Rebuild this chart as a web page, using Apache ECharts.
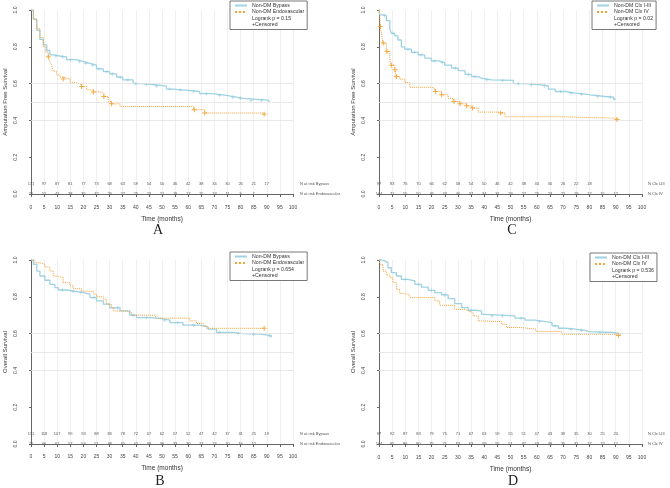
<!DOCTYPE html>
<html>
<head>
<meta charset="utf-8">
<script src="https://cdn.jsdelivr.net/npm/echarts@6/dist/echarts.min.js"></script>
<style>
  html, body { margin: 0; padding: 0; background: #fff; }
  #chart { width: 670px; height: 488px; }
</style>
</head>
<body>
<div id="chart"></div>
<script>
// Kaplan-Meier steps: [months, survival] (value after the drop)
const aBypass = [[0, 1], [0.9, 0.95], [2.2, 0.89], [3.4, 0.84], [4.7, 0.81], [6, 0.78], [7.2, 0.756], [8.5, 0.75], [11, 0.745], [13.6, 0.73], [17.4, 0.72], [20, 0.71], [22.5, 0.7], [25, 0.68], [27.6, 0.665], [30, 0.653], [32.7, 0.635], [35, 0.62], [39, 0.6], [42.8, 0.595], [46.6, 0.586], [51.7, 0.57], [54, 0.565], [59, 0.557], [64.4, 0.545], [69.5, 0.536], [74.6, 0.527], [78.4, 0.52], [81, 0.51], [90.5, 0.5], [91, 0.5]];
const aEndo = [[0, 1], [1, 0.95], [2.2, 0.9], [3.4, 0.85], [4.7, 0.8], [5.6, 0.77], [6.6, 0.746], [7.2, 0.72], [7.9, 0.7], [8.5, 0.667], [9.8, 0.647], [11, 0.635], [12.3, 0.625], [14.9, 0.605], [17, 0.595], [19.3, 0.584], [21.2, 0.566], [23.8, 0.555], [26.3, 0.548], [27.8, 0.53], [29.5, 0.503], [30.7, 0.49], [34, 0.476], [62, 0.458], [66.3, 0.44], [89, 0.434]];
const aBypassCens = [[9.5, 0.75], [12, 0.745], [15, 0.73], [18.5, 0.72], [21, 0.71], [23.5, 0.7], [26, 0.68], [29, 0.665], [31, 0.653], [34, 0.635], [37, 0.62], [40, 0.6], [44, 0.595], [48, 0.586], [53, 0.57], [57, 0.565], [62, 0.557], [67, 0.545], [72, 0.536], [77, 0.527], [80, 0.52], [84, 0.51], [88, 0.51]];
const aEndoCens = [[6.6, 0.746], [12.3, 0.625], [19.3, 0.584], [23.8, 0.555], [27.8, 0.53], [30.7, 0.49], [62.3, 0.458], [66.3, 0.44], [89, 0.434]];

const bBypass = [[0, 1], [0.9, 0.976], [2.2, 0.94], [3.4, 0.913], [5.3, 0.89], [7.2, 0.868], [9.1, 0.85], [10.4, 0.837], [13.6, 0.83], [17.4, 0.823], [20, 0.814], [22.5, 0.796], [25, 0.778], [27.6, 0.76], [30, 0.74], [34, 0.723], [37.7, 0.7], [40.3, 0.687], [45.4, 0.683], [49.2, 0.673], [53, 0.66], [58, 0.646], [64.4, 0.636], [67.6, 0.624], [70.8, 0.606], [77, 0.6], [81, 0.597], [87.3, 0.593], [89.8, 0.588], [91.7, 0.58]];
const bEndo = [[0, 1], [1.5, 0.985], [3.4, 0.976], [5.3, 0.962], [7.2, 0.94], [8.5, 0.913], [9.8, 0.904], [12.3, 0.877], [14.9, 0.86], [16.1, 0.844], [19.3, 0.83], [23.8, 0.814], [25, 0.8], [27.6, 0.787], [28.8, 0.76], [30.7, 0.741], [31.6, 0.723], [36.5, 0.714], [38.4, 0.7], [47.3, 0.696], [47.9, 0.684], [60.6, 0.669], [63.2, 0.655], [65.7, 0.642], [67, 0.629], [89, 0.629]];
const bBypassCens = [[12, 0.837], [16, 0.83], [19, 0.823], [24, 0.796], [33, 0.74], [39, 0.7], [44, 0.687], [51, 0.673], [56, 0.66], [62, 0.646], [72, 0.606], [79, 0.6], [85, 0.597], [91, 0.588]];
const bEndoCens = [[89, 0.629]];

const cLow = [[0, 1], [0.25, 0.973], [1.5, 0.97], [2.8, 0.942], [4.1, 0.9], [4.7, 0.873], [6, 0.859], [7.2, 0.837], [8.5, 0.8], [9.8, 0.787], [12.3, 0.77], [14.9, 0.756], [17.4, 0.738], [19.9, 0.723], [22.5, 0.714], [25, 0.7], [27.6, 0.684], [30.1, 0.67], [32.7, 0.65], [35.2, 0.638], [37.7, 0.629], [39, 0.62], [42.8, 0.617], [51.1, 0.6], [55.5, 0.593], [61.9, 0.588], [64.4, 0.57], [67, 0.557], [70.8, 0.548], [74.6, 0.543], [78.4, 0.539], [80.3, 0.53], [86, 0.526], [89.2, 0.515], [90, 0.515]];
const cHigh = [[0, 1], [0.25, 0.964], [0.5, 0.91], [0.9, 0.873], [1.5, 0.82], [2.8, 0.774], [4.1, 0.729], [4.7, 0.7], [6, 0.675], [6.6, 0.638], [7.9, 0.624], [9.8, 0.606], [11.7, 0.58], [19.9, 0.575], [21.2, 0.557], [23.8, 0.539], [26.3, 0.52], [28.2, 0.503], [30.7, 0.49], [33.3, 0.479], [35.2, 0.467], [37.7, 0.445], [46, 0.44], [47.9, 0.42], [68.2, 0.412], [90.5, 0.405]];
const cLowCens = [[2, 0.97], [5.3, 0.873], [11, 0.787], [13.5, 0.77], [16, 0.756], [21, 0.723], [24, 0.714], [29, 0.684], [34, 0.65], [36.5, 0.638], [41, 0.62], [47, 0.617], [53, 0.6], [58, 0.593], [63, 0.588], [69, 0.557], [73, 0.548], [77, 0.543], [83, 0.53], [88, 0.526]];
const cHighCens = [[0.5, 0.91], [1.6, 0.82], [3, 0.774], [4.7, 0.7], [6.1, 0.675], [6.6, 0.638], [21.5, 0.557], [23.8, 0.539], [28.5, 0.503], [30.8, 0.49], [33.3, 0.479], [35.6, 0.467], [46.3, 0.44], [90.5, 0.405]];

const dLow = [[0, 1], [0.9, 0.995], [2.2, 0.986], [3.4, 0.958], [4.7, 0.931], [6.6, 0.913], [8.5, 0.895], [11, 0.886], [13.6, 0.868], [16.1, 0.853], [18.7, 0.835], [21.2, 0.823], [23.8, 0.81], [26.3, 0.79], [28.8, 0.763], [31.4, 0.741], [33.9, 0.727], [36.5, 0.723], [39, 0.705], [40.3, 0.696], [51.7, 0.684], [55.5, 0.673], [59.3, 0.665], [63.2, 0.66], [65.8, 0.642], [68.2, 0.629], [70.8, 0.624], [74.6, 0.618], [78.4, 0.611], [79.7, 0.606], [88.6, 0.6], [91.7, 0.593]];
const dHigh = [[0, 1], [0.5, 0.976], [1.5, 0.94], [2.8, 0.919], [4.1, 0.904], [5.3, 0.877], [6.6, 0.84], [7.9, 0.817], [9.8, 0.81], [11.7, 0.796], [21.2, 0.778], [23.1, 0.754], [28.8, 0.732], [32.7, 0.723], [33.9, 0.714], [35.8, 0.696], [37.7, 0.669], [39, 0.665], [46.6, 0.651], [48.5, 0.633], [53.9, 0.624], [59.7, 0.611], [69.5, 0.597], [91, 0.59]];
const dLowCens = [[10, 0.895], [15, 0.868], [20, 0.835], [25, 0.81], [35, 0.727], [43, 0.696], [47, 0.696], [54, 0.684], [61, 0.665], [67, 0.642], [73, 0.624], [77, 0.618], [84, 0.606], [90, 0.6]];
const dHighCens = [[91, 0.59]];

// number at risk, every 5 months (estimated, barely legible)
const riskA1 = [131, 97, 87, 81, 77, 73, 68, 63, 59, 54, 50, 46, 42, 38, 34, 30, 26, 21, 17];
const riskA2 = [70, 51, 41, 38, 35, 32, 29, 27, 25, 23, 21, 19, 17, 15, 13, 11, 9, 7];
const riskB1 = [131, 118, 107, 99, 93, 88, 83, 78, 72, 67, 62, 57, 52, 47, 42, 37, 31, 25, 19];
const riskB2 = [70, 66, 61, 57, 54, 51, 48, 45, 42, 39, 36, 33, 30, 27, 24, 20, 16, 12];
const riskC1 = [97, 83, 76, 70, 66, 62, 58, 54, 50, 46, 42, 38, 34, 30, 26, 22, 18];
const riskC2 = [104, 71, 55, 50, 46, 43, 40, 37, 34, 31, 29, 27, 25, 23, 21, 19, 17, 15, 12];
const riskD1 = [97, 92, 87, 83, 79, 75, 71, 67, 63, 59, 55, 51, 47, 43, 39, 35, 30, 25, 20];
const riskD2 = [104, 95, 86, 80, 75, 71, 67, 63, 59, 55, 51, 47, 43, 39, 35, 31, 27, 22, 17];
const riskNamesBypass = ['N at risk Bypass', 'N at risk Endovascular'];
const riskNamesClx = ['N Clx I-III', 'N Clx IV'];
const riskRowY = [0.055, 0];

const refLines = [0.4, 0.5, 0.6];

const blue = '#9fd3e2';
const orange = '#f5a134';
const font = 'Liberation Sans, Arial, sans-serif';

const panels = [
  {
    letter: 'A', grid: { left: 31, top: 10, width: 262, height: 184 }, xOffset: 8, letterXY: [158, 230],
    yName: 'Amputation Free Survival', names: ['Non-DM Bypass', 'Non-DM Endovascular'], pText: 'Logrank p = 0.15',
    curves: [aBypass, aEndo], cens: [aBypassCens, aEndoCens], risk: [riskA1, riskA2],
    riskNames: riskNamesBypass, riskGap: 7, legend: { left: 230, top: 1 },
  },
  {
    letter: 'B', grid: { left: 31, top: 260, width: 262, height: 184 }, xOffset: 7, letterXY: [160, 481],
    yName: 'Overall Survival', names: ['Non-DM Bypass', 'Non-DM Endovascular'], pText: 'Logrank p = 0.654',
    curves: [bBypass, bEndo], cens: [bBypassCens, bEndoCens], risk: [riskB1, riskB2],
    riskNames: riskNamesBypass, riskGap: 7, legend: { left: 230, top: 252 },
  },
  {
    letter: 'C', grid: { left: 379, top: 10, width: 263, height: 184 }, xOffset: 8, letterXY: [512, 230],
    yName: 'Amputation Free Survival', names: ['Non-DM Clx I-III', 'Non-DM Clx IV'], pText: 'Logrank p = 0.02',
    curves: [cLow, cHigh], cens: [cLowCens, cHighCens], risk: [riskC1, riskC2],
    riskNames: riskNamesClx, riskGap: 6, legend: { left: 592, top: 1 },
  },
  {
    letter: 'D', grid: { left: 379, top: 260, width: 263, height: 184 }, xOffset: 8, letterXY: [513, 481],
    yName: 'Overall Survival', names: ['Non-DM Clx I-III', 'Non-DM Clx IV'], pText: 'Logrank p = 0.536',
    curves: [dLow, dHigh], cens: [dLowCens, dHighCens], risk: [riskD1, riskD2],
    riskNames: riskNamesClx, riskGap: 6, legend: { left: 590, top: 253 },
  },
];

const plus = 'path://M4,0H6V4H10V6H6V10H4V6H0V4H4Z';
const grid = [], xAxis = [], yAxis = [], series = [], legend = [], graphic = [];

panels.forEach((p, i) => {
  grid.push(p.grid);
  xAxis.push({
    gridIndex: i, type: 'value', min: 0, max: 100, interval: 5, offset: p.xOffset,
    axisLine: { show: true, lineStyle: { color: '#666', width: 1 } },
    axisTick: { show: true, length: 3, lineStyle: { color: '#666' } },
    axisLabel: { fontSize: 5, color: '#444', margin: 3, fontFamily: font },
    splitLine: { show: true, lineStyle: { color: '#ebebeb', width: 0.8 } },
    name: 'Time (months)', nameLocation: 'middle', nameGap: 14,
    nameTextStyle: { fontSize: 6.5, color: '#333', fontFamily: font },
  });
  yAxis.push({
    gridIndex: i, type: 'value', min: 0, max: 1, interval: 0.2, offset: 10,
    axisLine: { show: true, lineStyle: { color: '#666', width: 1 } },
    axisTick: { show: true, length: 2, lineStyle: { color: '#666' } },
    axisLabel: { rotate: 90, fontSize: 5, color: '#444', margin: 3, fontFamily: font, formatter: (v) => v.toFixed(1) },
    splitLine: { show: false },
    name: p.yName, nameLocation: 'middle', nameGap: 13,
    nameTextStyle: { fontSize: 6, color: '#333', fontFamily: font },
  });

  [blue, orange].forEach((color, k) => {
    series.push({
      name: p.names[k], type: 'line', step: 'end', xAxisIndex: i, yAxisIndex: i,
      data: p.curves[k], symbol: 'none', color,
      lineStyle: { color, width: k === 0 ? 1.3 : 1, type: k === 0 ? 'solid' : 'dotted' },
      z: 3 + k,
      markLine: k === 0 ? {
        silent: true, symbol: ['none', 'none'], label: { show: false },
        lineStyle: { color: '#e2e2e2', type: 'solid', width: 0.8 },
        data: refLines.map((v) => ({ yAxis: v })),
      } : undefined,
    });
    series.push({
      type: 'scatter', xAxisIndex: i, yAxisIndex: i, data: p.cens[k],
      symbol: plus, symbolSize: k === 0 ? 3.5 : 5, itemStyle: { color: k === 0 ? '#8fcbdc' : '#f39a1f' },
      z: 5, silent: true,
    });
  });

  legend.push({
    left: p.legend.left, top: p.legend.top, orient: 'vertical', selectedMode: false,
    borderColor: '#555', borderWidth: 0.8, padding: [2, 3, 2, 4], itemGap: 1.5,
    itemWidth: 12, itemHeight: 5, backgroundColor: '#fff',
    itemStyle: { opacity: 0 },
    textStyle: { fontSize: 5.2, color: '#333', fontFamily: font },
    data: [
      { name: p.names[0] }, { name: p.names[1] },
      { name: p.pText, icon: 'rect' },
      { name: '+Censored', icon: 'rect' },
    ],
  });
  series.push({ name: p.pText, type: 'line', xAxisIndex: i, yAxisIndex: i, data: [], symbol: 'none', lineStyle: { opacity: 0 }, itemStyle: { opacity: 0 } });

  graphic.push({
    type: 'text', x: p.letterXY[0], y: p.letterXY[1],
    style: { text: p.letter, fontSize: 14, fill: '#222', fontFamily: 'Liberation Serif, Times New Roman, serif', textAlign: 'center', textVerticalAlign: 'middle' },
  });
});

series.push({ name: '+Censored', type: 'line', data: [], symbol: 'none', lineStyle: { opacity: 0 }, itemStyle: { opacity: 0 } });

const chart = echarts.init(document.getElementById('chart'), null, { renderer: 'canvas' });
chart.setOption({
  animation: false,
  backgroundColor: '#fff',
  grid, xAxis, yAxis, legend, series, graphic,
});

// number-at-risk table: place each count at its month / row through the panel's own axes
panels.forEach((p, i) => {
  const finder = { xAxisIndex: i, yAxisIndex: i };
  p.risk.forEach((row, k) => {
    row.forEach((n, j) => {
      const [x, y] = chart.convertToPixel(finder, [j * 5, riskRowY[k]]);
      graphic.push({
        type: 'text', x, y, z: 100, silent: true,
        style: { text: String(n), fontSize: 4, fill: '#555', fontFamily: font, textAlign: 'center', textVerticalAlign: 'middle' },
      });
    });
    const [x, y] = chart.convertToPixel(finder, [100, riskRowY[k]]);
    graphic.push({
      type: 'text', x: x + p.riskGap, y, z: 100, silent: true,
      style: { text: p.riskNames[k], fontSize: 4, fill: '#555', fontFamily: font, textAlign: 'left', textVerticalAlign: 'middle' },
    });
  });
});
chart.setOption({ graphic });
</script>
</body>
</html>
